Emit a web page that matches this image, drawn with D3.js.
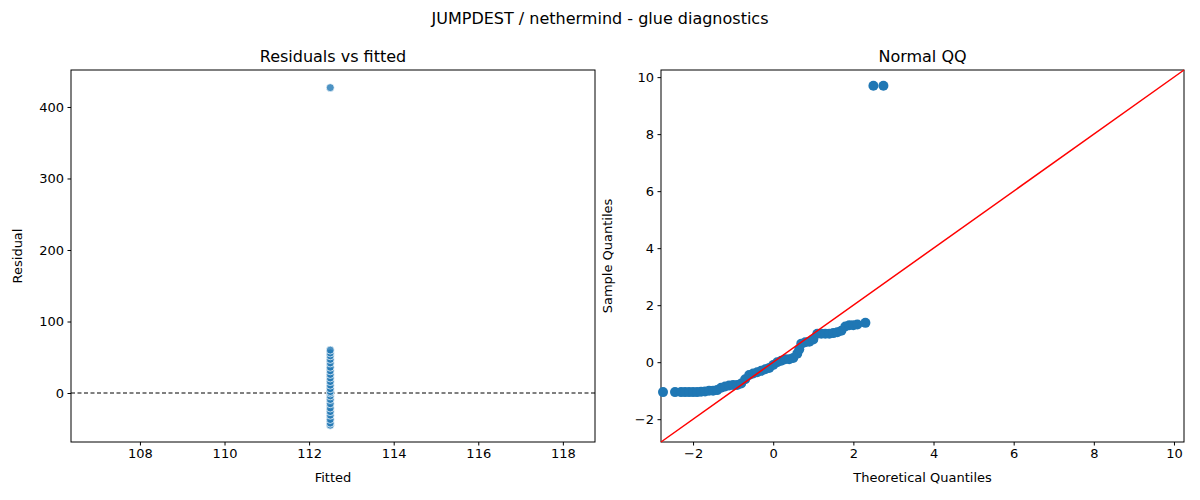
<!DOCTYPE html>
<html><head><meta charset="utf-8">
<script src="https://cdn.jsdelivr.net/npm/d3@7"></script>
<style>body{margin:0;background:#fff}text{font-family:"DejaVu Sans",sans-serif;fill:#000}</style>
</head><body><div id="chart"></div>
<script>
// residuals vs fitted
var fitted = 112.5
var residuals = [-45,-42,-37,-31,-26,-21,-15,-9,-4,0,2,6,11,16,21,26,31,36,42,47,52,56,60,427]
// normal QQ: theoretical, sample
var qqTheo = [-2.75,-2.45,-2.3,-2.2,-2.1,-2.0,-1.9,-1.8,-1.7,-1.6,-1.5,-1.4,-1.3,-1.2,-1.1,-1.0,-0.9,-0.8,-0.7,-0.6,-0.5,-0.4,-0.3,-0.2,-0.1,0,0.1,0.2,0.3,0.4,0.5,0.6,0.65,0.7,0.8,0.9,1.0,1.1,1.2,1.3,1.4,1.5,1.6,1.7,1.8,1.9,2.0,2.1,2.3,2.5,2.75]
var qqSamp = [-1.05,-1.05,-1.05,-1.05,-1.05,-1.05,-1.05,-1.04,-1.03,-1.0,-1.0,-0.98,-0.9,-0.85,-0.82,-0.8,-0.8,-0.75,-0.6,-0.45,-0.4,-0.35,-0.3,-0.25,-0.2,-0.1,0,0.05,0.1,0.1,0.15,0.3,0.45,0.65,0.7,0.72,0.8,1.0,1.0,1.0,1.0,1.02,1.05,1.1,1.25,1.3,1.3,1.32,1.38,9.7,9.7]

var svg = d3.select('#chart').append('svg').attr('width',1200).attr('height',500)
svg.append('text').attr('x',600).attr('y',24).attr('text-anchor','middle').style('font-size','16px')
  .text('JUMPDEST / nethermind - glue diagnostics')

function panel(x0,x1,xd,yd,xt,yt,title,xl,yl){
  var x = d3.scaleLinear().domain(xd).range([x0,x1])
  var y = d3.scaleLinear().domain(yd).range([442,70])
  var g = svg.append('g')
  g.append('g').attr('transform','translate(0,442)').call(d3.axisBottom(x).tickValues(xt).tickSize(3.5).tickPadding(3.5).tickFormat(d=>d<0?'\u2212'+(-d):d))
  g.append('g').attr('transform','translate('+x0+',0)').call(d3.axisLeft(y).tickValues(yt).tickSize(3.5).tickPadding(3.5).tickFormat(d=>d<0?'\u2212'+(-d):d))
  g.selectAll('.tick text').style('font-size','13px').style('font-family','DejaVu Sans')
  g.selectAll('.domain').remove()
  g.append('rect').attr('x',x0).attr('y',70).attr('width',x1-x0).attr('height',372).attr('fill','none').attr('stroke','#000').attr('stroke-width',1)
  g.append('text').attr('x',(x0+x1)/2).attr('y',62).attr('text-anchor','middle').style('font-size','16px').text(title)
  g.append('text').attr('x',(x0+x1)/2).attr('y',482).attr('text-anchor','middle').style('font-size','13px').text(xl)
  g.append('text').attr('transform','translate('+(x0-49)+',256) rotate(-90)').attr('text-anchor','middle').style('font-size','13px').text(yl)
  return {x:x,y:y,g:g}
}

var L = panel(71,595,[106.37,118.76],[-68.5,451.7],[108,110,112,114,116,118],[0,100,200,300,400],'Residuals vs fitted','Fitted','Residual')
L.g.append('line').attr('x1',71).attr('x2',595).attr('y1',L.y(0)).attr('y2',L.y(0)).attr('stroke','#000').attr('stroke-dasharray','4,2.5')
L.g.selectAll('circle.r').data(residuals).join('circle').attr('cx',L.x(fitted)).attr('cy',d=>L.y(d)).attr('r',4)
  .attr('fill','#1f77b4').attr('fill-opacity',0.8).attr('stroke','#fff').attr('stroke-width',0.7)

var R = panel(661,1184,[-2.8,10.25],[-2.8,10.25],[-2,0,2,4,6,8,10],[-2,0,2,4,6,8,10],'Normal QQ','Theoretical Quantiles','Sample Quantiles')
R.g.selectAll('circle.q').data(qqTheo).join('circle').attr('cx',d=>R.x(d)).attr('cy',(d,i)=>R.y(qqSamp[i])).attr('r',5).attr('fill','#1f77b4')
R.g.append('line').attr('x1',R.x(-2.8)).attr('y1',R.y(-2.8)).attr('x2',R.x(10.25)).attr('y2',R.y(10.25)).attr('stroke','red').attr('stroke-width',1.5)
</script></body></html>
